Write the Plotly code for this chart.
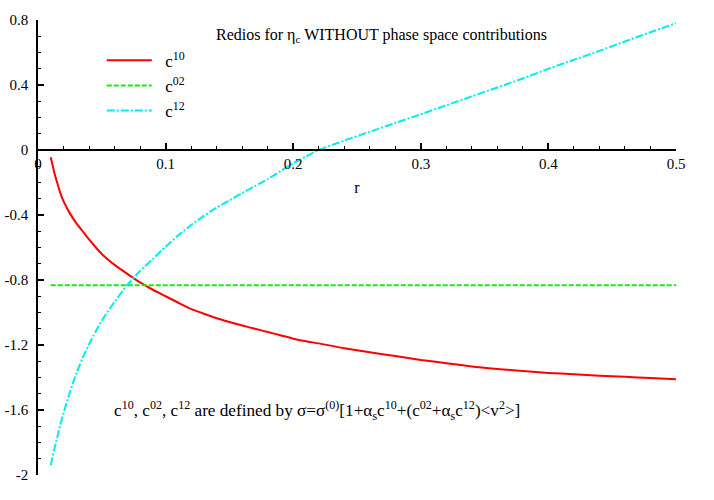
import plotly.graph_objects as go

r_vals = [0.01, 0.0125, 0.015, 0.0175, 0.02, 0.025, 0.03, 0.035, 0.04, 0.045, 0.05, 0.055,
          0.06, 0.07, 0.08, 0.09,
          0.10, 0.11, 0.12, 0.13, 0.14, 0.15, 0.16, 0.17, 0.18, 0.19, 0.20, 0.21,
          0.22, 0.24, 0.26, 0.28, 0.30, 0.32, 0.34, 0.36, 0.38, 0.40, 0.42, 0.44,
          0.46, 0.48, 0.50]

c10 = [-0.045, -0.13, -0.20, -0.265, -0.315, -0.39, -0.45, -0.50, -0.55, -0.597, -0.64, -0.675,
       -0.707, -0.762, -0.815, -0.86,
       -0.90, -0.94, -0.978, -1.008, -1.035, -1.058, -1.08, -1.10, -1.12, -1.14, -1.161, -1.177,
       -1.19, -1.22, -1.245, -1.268, -1.292, -1.312, -1.332, -1.347, -1.36, -1.372, -1.38, -1.389,
       -1.396, -1.403, -1.41]

c02 = [-0.833] * len(r_vals)

c12 = [-1.94, -1.85, -1.77, -1.69, -1.62, -1.49, -1.375, -1.28, -1.195, -1.12, -1.05, -0.99,
       -0.935, -0.83, -0.745, -0.67,
       -0.595, -0.525, -0.462, -0.405, -0.355, -0.31, -0.265, -0.222, -0.18, -0.13, -0.082, -0.04,
       0.0, 0.058, 0.112, 0.166, 0.22, 0.275, 0.33, 0.385, 0.44, 0.50, 0.555, 0.61,
       0.668, 0.725, 0.78]

x_ticks = [0, 0.1, 0.2, 0.3, 0.4, 0.5]
x_tick_labels = ["0", "0.1", "0.2", "0.3", "0.4", "0.5"]
y_ticks = [-2, -1.6, -1.2, -0.8, -0.4, 0, 0.4, 0.8]
y_tick_labels = ["-2", "-1.6", "-1.2", "-0.8", "-0.4", "0", "0.4", "0.8"]

FONT = "Liberation Serif, Times New Roman, serif"
NB = "\u00a0\u00a0"

fig = go.Figure()
fig.add_trace(go.Scatter(x=r_vals, y=c10, mode="lines", name=NB + "c<sup>10</sup>",
                         line=dict(color="#ff0000", width=2, shape="spline", smoothing=0.6)))
fig.add_trace(go.Scatter(x=r_vals, y=c02, mode="lines", name=NB + "c<sup>02</sup>",
                         line=dict(color="#11ee11", width=2, dash="5px,2px")))
fig.add_trace(go.Scatter(x=r_vals, y=c12, mode="lines", name=NB + "c<sup>12</sup>",
                         line=dict(color="#00eeee", width=2, dash="8px,2px,2px,2px",
                                   shape="spline", smoothing=0.6)))

fig.update_layout(
    width=714, height=500,
    margin=dict(l=38, r=38, t=20, b=25, autoexpand=False),
    paper_bgcolor="white", plot_bgcolor="white",
    font=dict(family=FONT, size=15, color="black"),
    showlegend=True,
    legend=dict(x=0.1, y=0.95, xanchor="left", yanchor="top",
                bgcolor="rgba(0,0,0,0)", font=dict(size=17), itemwidth=45,
                tracegroupgap=0),
    xaxis=dict(range=[0, 0.5], anchor="free", position=2 / 2.8,
               showline=True, linecolor="black", linewidth=1.5,
               ticks="inside", ticklen=6, tickwidth=1.5, tickcolor="black",
               tickvals=x_ticks, ticktext=x_tick_labels,
               tickfont=dict(family=FONT, size=15),
               minor=dict(tickvals=[v / 100 for v in range(0, 51, 2)], ticks="inside",
                          ticklen=3, tickwidth=1.2, tickcolor="black"),
               showgrid=False, zeroline=False,
               title=dict(text="r", standoff=10, font=dict(family=FONT, size=16))),
    yaxis=dict(range=[-2, 0.8],
               showline=True, linecolor="black", linewidth=1.5,
               ticks="inside", ticklen=6, tickwidth=1.5, tickcolor="black",
               tickvals=y_ticks, ticktext=y_tick_labels, ticklabelstandoff=5,
               tickfont=dict(family=FONT, size=15),
               minor=dict(tickvals=[v / 10 for v in range(-20, 9)], ticks="inside",
                          ticklen=3, tickwidth=1.2, tickcolor="black"),
               showgrid=False, zeroline=False),
    annotations=[
        dict(text="Redios for η<sub>c</sub> WITHOUT phase space contributions",
             xref="paper", yref="paper", x=(381 - 38) / 638, y=(475 - 35) / 455,
             xanchor="center", yanchor="middle", showarrow=False, font=dict(size=16)),
        dict(text="c<sup>10</sup>, c<sup>02</sup>, c<sup>12</sup> are defined by "
                  "σ=σ<sup>(0)</sup>[1+α<sub>s</sub>c<sup>10</sup>+(c<sup>02</sup>+"
                  "α<sub>s</sub>c<sup>12</sup>)&lt;v<sup>2</sup>&gt;]",
             xref="paper", yref="paper", x=(112 - 38) / 638, y=(475 - 410) / 455,
             xanchor="left", yanchor="middle", showarrow=False, font=dict(size=17.2)),
    ],
)

fig.write_html("out.html", config={"displayModeBar": False},
               post_script="document.body.style.margin='0';")
